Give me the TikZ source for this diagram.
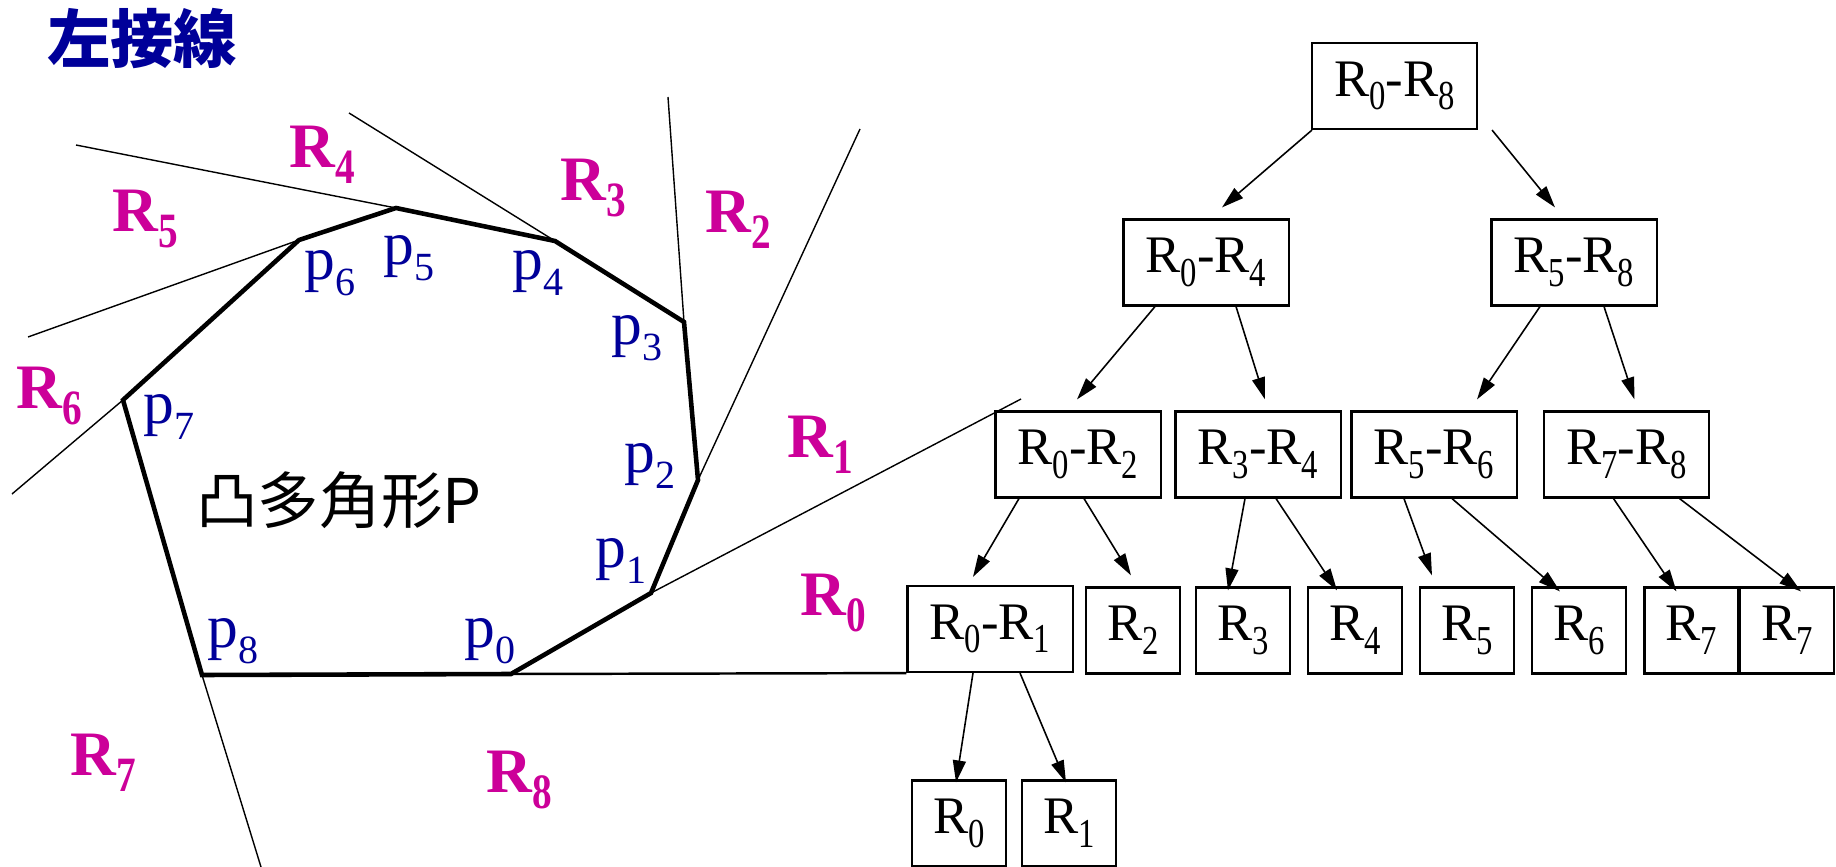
\documentclass[tikz,border=0pt]{standalone}
\usepackage{fontspec}
\usepackage{graphicx}
\setmainfont{Liberation Serif}
\newfontfamily\cjk{Noto Sans CJK JP}
\usetikzlibrary{arrows.meta}
\definecolor{regmag}{RGB}{204,0,153}
\definecolor{ptblue}{RGB}{0,0,153}
\newcommand{\rsub}[1]{\raisebox{-0.26em}{\scalebox{0.62}[0.78]{#1}}}
\newcommand{\psub}[1]{\raisebox{-0.26em}{\scalebox{0.65}{#1}}}
\tikzset{
  tbox/.style={draw, line width=0.6pt, inner sep=0pt, minimum height=0.86cm,
    font=\fontsize{15}{18}\selectfont},
  pairbox/.style={tbox, minimum width=1.65cm},
  leafbox/.style={tbox, minimum width=0.94cm},
  arr/.style={-{Triangle[length=0.22cm,width=0.13cm]}, line width=0.45pt},
  region/.style={text=regmag, inner sep=0pt, font=\fontsize{18}{20}\selectfont\bfseries},
  vlabel/.style={text=ptblue, inner sep=0pt, font=\fontsize{17.5}{20}\selectfont},
  tangent/.style={line width=0.4pt},
}
\begin{document}
\begin{tikzpicture}[x=0.01cm, y=-0.01cm]
  \useasboundingbox (0,0) rectangle (1836,867);

  % convex polygon
  \coordinate (p0) at (511,674);
  \coordinate (p1) at (651,593);
  \coordinate (p2) at (698,480);
  \coordinate (p3) at (684,322);
  \coordinate (p4) at (555,241);
  \coordinate (p5) at (396,208);
  \coordinate (p6) at (299,240);
  \coordinate (p7) at (123,400);
  \coordinate (p8) at (202,675);

  % left tangents
  \draw[tangent] (p1) -- (1021,399);
  \draw[tangent] (p2) -- (860,129);
  \draw[tangent] (p3) -- (668,97);
  \draw[tangent] (p4) -- (349,113);
  \draw[tangent] (p5) -- (76,145);
  \draw[tangent] (p6) -- (28,337);
  \draw[tangent] (p7) -- (12,494);
  \draw[tangent] (p8) -- (261,867);

  \draw[line width=1.3pt, line join=miter]
    (p0) -- (p1) -- (p2) -- (p3) -- (p4) -- (p5) -- (p6) -- (p7) -- (p8) -- cycle;

  % title and polygon name
  \node[text=ptblue, inner sep=0pt, font=\fontsize{18}{20}\selectfont] (title) at (142,39) {\cjk\bfseries 左接線};
  \node[inner sep=0pt, font=\fontsize{17.5}{20}\selectfont] (poly) at (339,500) {\cjk 凸多角形P};

  % vertex labels
  \node[vlabel] (l0) at (490,641) {p\psub{0}};
  \node[vlabel] (l1) at (621,561) {p\psub{1}};
  \node[vlabel] (l2) at (650,466) {p\psub{2}};
  \node[vlabel] (l3) at (637,338) {p\psub{3}};
  \node[vlabel] (l4) at (538,273) {p\psub{4}};
  \node[vlabel] (l5) at (409,258) {p\psub{5}};
  \node[vlabel] (l6) at (330,273) {p\psub{6}};
  \node[vlabel] (l7) at (169,417) {p\psub{7}};
  \node[vlabel] (l8) at (233,641) {p\psub{8}};

  % regions
  \node[region] (g0) at (833,603) {R\rsub{0}};
  \node[region] (g1) at (820,445) {R\rsub{1}};
  \node[region] (g2) at (738,220) {R\rsub{2}};
  \node[region] (g3) at (593,188) {R\rsub{3}};
  \node[region] (g4) at (322,155) {R\rsub{4}};
  \node[region] (g5) at (145,219) {R\rsub{5}};
  \node[region] (g6) at (49,396) {R\rsub{6}};
  \node[region] (g7) at (103,763) {R\rsub{7}};
  \node[region] (g8) at (519,780) {R\rsub{8}};

  % search tree
  \node[pairbox] (r08) at (1394.5,86) {R\rsub{0}-R\rsub{8}};
  \node[pairbox] (r04) at (1206,262.5) {R\rsub{0}-R\rsub{4}};
  \node[pairbox] (r58) at (1574,262.5) {R\rsub{5}-R\rsub{8}};
  \node[pairbox] (r02) at (1078,454.5) {R\rsub{0}-R\rsub{2}};
  \node[pairbox] (r34) at (1258,454.5) {R\rsub{3}-R\rsub{4}};
  \node[pairbox] (r56) at (1434,454.5) {R\rsub{5}-R\rsub{6}};
  \node[pairbox] (r78) at (1626.5,454.5) {R\rsub{7}-R\rsub{8}};
  \node[pairbox] (r01) at (990,629) {R\rsub{0}-R\rsub{1}};
  \node[leafbox] (r2) at (1133,630.5) {R\rsub{2}};
  \node[leafbox] (r3) at (1243,630.5) {R\rsub{3}};
  \node[leafbox] (r4) at (1355,630.5) {R\rsub{4}};
  \node[leafbox] (r5) at (1467,630.5) {R\rsub{5}};
  \node[leafbox] (r6) at (1579,630.5) {R\rsub{6}};
  \node[leafbox] (r7a) at (1691.5,630.5) {R\rsub{7}};
  \node[leafbox] (r7b) at (1787,630.5) {R\rsub{7}};
  \node[leafbox] (r0) at (959,823.5) {R\rsub{0}};
  \node[leafbox] (r1) at (1069,823.5) {R\rsub{1}};

  \draw[line width=0.7pt] (p0) -- (r01.south west);

  \foreach \a/\sa/\b/\ex/\ey in {
      r08/-0.825/r04/0.16/0.11, r08/0.975/r58/-0.19/0.11,
      r04/-0.51/r02/-0.01/0.11, r04/0.30/r34/0.07/0.11,
      r58/-0.34/r56/0.43/0.11, r58/0.30/r78/0.08/0.11,
      r02/-0.59/r01/-0.17/0.08, r02/0.06/r2/-0.02/0.11,
      r34/-0.13/r3/-0.15/-0.04, r34/0.18/r4/-0.18/-0.04,
      r56/-0.30/r5/-0.35/0.11, r56/0.18/r6/-0.19/-0.05,
      r78/-0.13/r7a/-0.15/-0.05, r78/0.53/r7b/0.14/-0.05,
      r01/-0.17/r0/-0.03/-0.03, r01/0.30/r1/-0.03/-0.03}
    \draw[arr] ([xshift=\sa cm]\a.south) -- ([xshift=\ex cm, yshift=\ey cm]\b.north);
\end{tikzpicture}
\end{document}
